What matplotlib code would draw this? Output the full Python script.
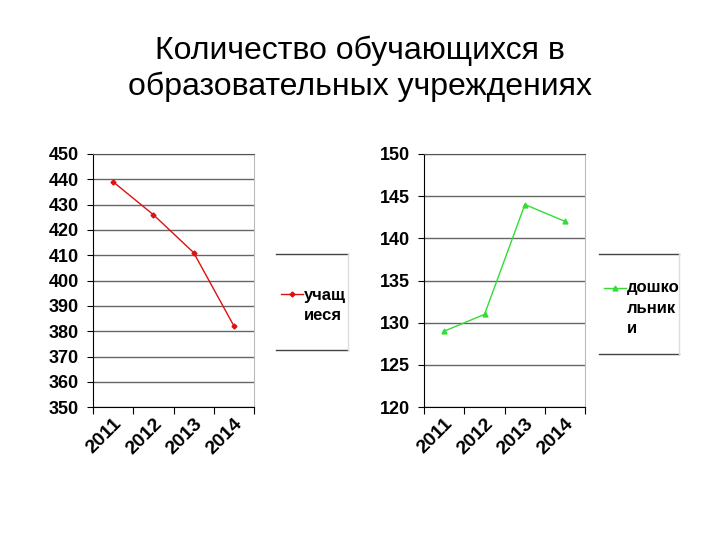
import matplotlib
matplotlib.use("Agg")
import matplotlib.pyplot as plt
from matplotlib.lines import Line2D

plt.rcParams['font.family'] = ['Liberation Sans', 'DejaVu Sans']

years = ["2011", "2012", "2013", "2014"]
pupils = [439, 426, 411, 382]
preschool = [129, 131, 144, 142]

title = "Количество обучающихся в\nобразовательных учреждениях"
label_left = "учащ\nиеся"
label_right = "дошко\nльник\nи"

fig = plt.figure(figsize=(7.2, 5.4), dpi=100)
fig.text(0.5, 0.872, title, ha='center', va='center', fontsize=23, linespacing=1.25)


def draw_panel(rect, values, ylim, step, color, marker, msize):
    ax = fig.add_axes(rect)
    xs = [i + 0.5 for i in range(len(values))]
    ax.plot(xs, values, color=color, lw=1, marker=marker, ms=msize, zorder=3)
    ax.set_xlim(0, len(values))
    ax.set_ylim(*ylim)
    ax.set_yticks(range(ylim[0], ylim[1] + 1, step))
    ax.yaxis.grid(True, color='#666666', lw=1)
    ax.set_axisbelow(True)
    ax.set_xticks(range(len(values) + 1))
    ax.set_xticklabels([])
    ax.set_xticks(xs, minor=True)
    ax.set_xticklabels(years, minor=True, rotation=45, ha='right', va='top',
                       rotation_mode='anchor', fontsize=14, fontweight='bold')
    ax.tick_params(axis='x', which='minor', length=0, pad=6)
    ax.tick_params(axis='x', which='major', length=5, direction='out')
    ax.tick_params(axis='y', length=4, direction='out', labelsize=13, pad=6)
    for lab in ax.get_yticklabels():
        lab.set_fontweight('bold')
    ax.spines['left'].set_color('black')
    ax.spines['bottom'].set_color('black')
    ax.spines['top'].set_color('#555555')
    ax.spines['right'].set_color('#bbbbbb')
    return ax


draw_panel([0.129, 0.246, 0.224, 0.469], pupils, (350, 450), 10, '#dd1111', 'D', 2.5)
draw_panel([0.589, 0.246, 0.224, 0.469], preschool, (120, 150), 5, '#33dd33', '^', 3.5)


def draw_legend(x0, y0, w, h, ym, ytext, color, marker, msize, text):
    tf = fig.transFigure
    fig.add_artist(Line2D([x0, x0 + w], [y0 + h, y0 + h], color='#444444', lw=1, transform=tf))
    fig.add_artist(Line2D([x0, x0 + w], [y0, y0], color='#444444', lw=1, transform=tf))
    fig.add_artist(Line2D([x0 + w, x0 + w], [y0, y0 + h], color='#dddddd', lw=1, transform=tf))
    fig.add_artist(Line2D([x0 + 0.007, x0 + 0.038], [ym, ym], color=color, lw=1, transform=tf))
    fig.add_artist(Line2D([x0 + 0.0225], [ym], color=color, marker=marker, ms=msize,
                          lw=0, transform=tf))
    fig.text(x0 + 0.039, ytext, text, ha='left', va='top', fontsize=12,
             fontweight='bold', linespacing=1.45)


draw_legend(0.383, 0.352, 0.100, 0.178, 0.455, 0.467, '#dd1111', 'D', 2.5, label_left)
draw_legend(0.832, 0.345, 0.111, 0.185, 0.467, 0.481, '#33dd33', '^', 3.5, label_right)

fig.savefig("out.png", dpi=100, facecolor='white')
